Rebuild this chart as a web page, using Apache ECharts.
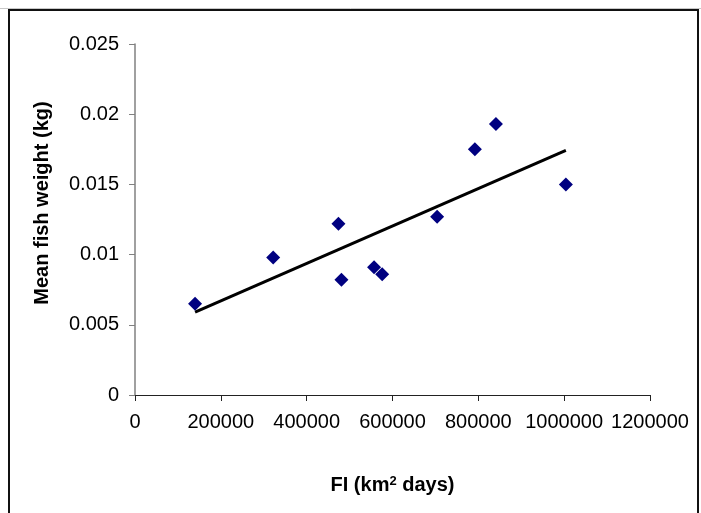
<!DOCTYPE html>
<html>
<head>
<meta charset="utf-8">
<script src="https://cdn.jsdelivr.net/npm/echarts@6/dist/echarts.min.js"></script>
<style>
  html, body { margin: 0; padding: 0; background: #fff; }
  #chart { width: 701px; height: 513px; }
</style>
</head>
<body>
<div id="chart"></div>
<script>
// FI (km2 days) and mean fish weight (kg)
const fi = [140000, 322000, 474000, 481000, 557000, 576000, 704000, 792000, 841000, 1004000];
const weight = [0.0065, 0.0098, 0.0122, 0.0082, 0.0091, 0.0086, 0.0127, 0.0175, 0.0193, 0.0150];
const yTicks = [0, 0.005, 0.01, 0.015, 0.02, 0.025];
const xTicks = [0, 200000, 400000, 600000, 800000, 1000000, 1200000];

// least squares trend line over the data range
function trend(xs, ys) {
  const n = xs.length;
  const mx = xs.reduce((a, b) => a + b, 0) / n;
  const my = ys.reduce((a, b) => a + b, 0) / n;
  let sxy = 0, sxx = 0;
  for (let i = 0; i < n; i++) {
    sxy += (xs[i] - mx) * (ys[i] - my);
    sxx += (xs[i] - mx) * (xs[i] - mx);
  }
  const k = sxy / sxx, b = my - k * mx;
  const x0 = Math.min(...xs), x1 = Math.max(...xs);
  return [[x0, k * x0 + b], [x1, k * x1 + b]];
}

const font = "'Liberation Sans', Arial, sans-serif";
const chart = echarts.init(document.getElementById("chart"));
chart.setOption({
  animation: false,
  grid: { left: 135, right: 51, top: 44, bottom: 118 },
  xAxis: {
    type: "value",
    min: xTicks[0],
    max: xTicks[xTicks.length - 1],
    interval: 200000,
    splitLine: { show: false },
    axisLine: { lineStyle: { color: "#222", width: 1 } },
    axisTick: { length: 6, lineStyle: { color: "#222" } },
    axisLabel: { color: "#000", fontFamily: font, fontSize: 20, margin: 17, formatter: v => String(v) },
    name: "{a|FI (km}{s|2}{a| days)}",
    nameLocation: "middle",
    nameGap: 80,
    nameTextStyle: {
      rich: {
        a: { fontFamily: font, fontSize: 20, fontWeight: "bold", color: "#000" },
        s: { fontFamily: font, fontSize: 13, fontWeight: "bold", color: "#000", verticalAlign: "top", padding: [0, 0, 8, 0] }
      }
    }
  },
  yAxis: {
    type: "value",
    min: yTicks[0],
    max: yTicks[yTicks.length - 1],
    interval: 0.005,
    splitLine: { show: false },
    axisLine: { show: true, lineStyle: { color: "#808080", width: 1.5 } },
    axisTick: { show: true, length: 6, lineStyle: { color: "#808080" } },
    axisLabel: { color: "#000", fontFamily: font, fontSize: 20, margin: 16 }
  },
  graphic: [
    { type: "line", shape: { x1: 0, y1: 8.5, x2: 701, y2: 8.5 }, style: { stroke: "#c8c8c8", lineWidth: 1 } },
    { type: "rect", shape: { x: 9, y: 10, width: 689, height: 520 }, style: { fill: "none", stroke: "#111", lineWidth: 2 } },
    {
      type: "text", x: 42, y: 203, rotation: Math.PI / 2,
      style: {
        text: "Mean fish weight (kg)", fontFamily: font, fontSize: 20, fontWeight: "bold",
        fill: "#000", align: "center", verticalAlign: "middle"
      }
    }
  ],
  series: [
    {
      type: "scatter",
      data: fi.map((x, i) => [x, weight[i]]),
      symbol: "diamond",
      symbolSize: 14,
      itemStyle: { color: "#000080", opacity: 1 },
      z: 3
    },
    {
      type: "line",
      data: trend(fi, weight),
      symbol: "none",
      lineStyle: { color: "#000", width: 3 },
      z: 2
    }
  ]
});
</script>
</body>
</html>
